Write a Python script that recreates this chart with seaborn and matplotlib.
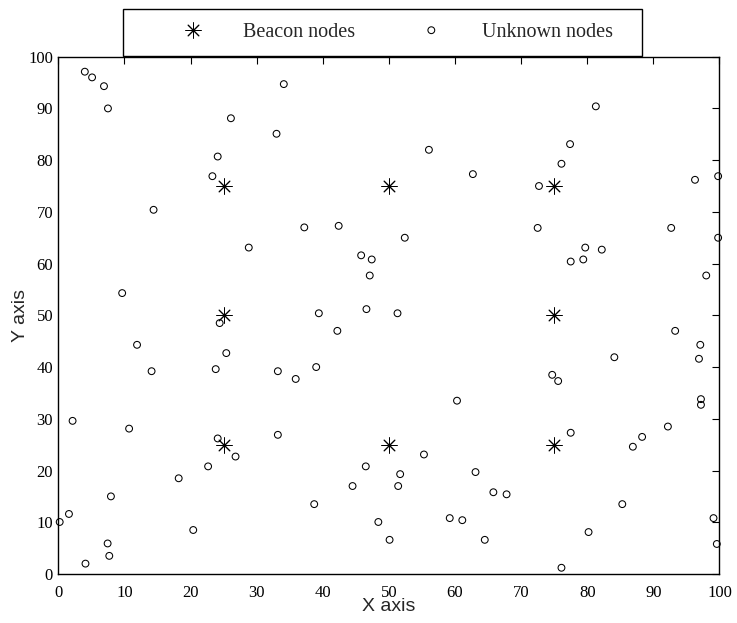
import matplotlib
matplotlib.use("Agg")
import matplotlib.pyplot as plt
from matplotlib.patches import Rectangle
import seaborn as sns
import pandas as pd

# ---- data ----
beacon_x = [25, 25, 25, 50, 50, 75, 75, 75]
beacon_y = [25, 50, 75, 25, 75, 25, 50, 75]

unknown_x = [4.0, 5.1, 6.9, 7.5, 34.1, 26.1, 33.0, 24.1, 23.3, 14.4,
             28.8, 9.65, 24.4, 11.9, 25.4, 56.05, 62.7, 37.2, 42.4, 52.4,
             45.8, 47.4, 47.1, 39.4, 46.6, 51.3, 42.2, 81.3, 77.4, 76.1,
             72.7, 96.3, 99.8, 72.5, 92.7, 99.8, 79.7, 82.2, 77.5, 79.4,
             98.0, 93.3, 97.1, 14.1, 23.8, 33.2, 2.15, 10.7, 33.2, 24.1,
             26.8, 22.65, 18.2, 7.95, 1.6, 0.2, 20.4, 7.45, 7.7, 4.1,
             35.9, 39.0, 60.3, 55.3, 46.5, 51.7, 63.1, 44.5, 51.4, 65.8,
             38.7, 59.2, 61.1, 48.4, 50.1, 64.5, 84.1, 96.9, 74.7, 75.6,
             97.2, 97.2, 77.5, 92.2, 88.3, 86.9, 67.8, 85.3, 99.1, 80.2,
             99.6, 76.1]
unknown_y = [97.1, 96.0, 94.3, 90.0, 94.7, 88.1, 85.1, 80.7, 76.9, 70.4,
             63.1, 54.3, 48.5, 44.3, 42.7, 82.0, 77.3, 67.0, 67.3, 65.0,
             61.6, 60.8, 57.7, 50.4, 51.2, 50.4, 47.0, 90.4, 83.1, 79.3,
             75.0, 76.2, 76.9, 66.9, 66.9, 65.0, 63.1, 62.7, 60.4, 60.8,
             57.7, 47.0, 44.3, 39.2, 39.6, 39.2, 29.6, 28.1, 26.9, 26.2,
             22.7, 20.8, 18.5, 15.0, 11.6, 10.05, 8.5, 5.9, 3.5, 2.0,
             37.7, 40.0, 33.5, 23.1, 20.8, 19.3, 19.7, 17.0, 17.0, 15.8,
             13.5, 10.8, 10.4, 10.05, 6.6, 6.6, 41.9, 41.6, 38.5, 37.3,
             33.8, 32.7, 27.3, 28.5, 26.5, 24.6, 15.4, 13.5, 10.8, 8.1,
             5.8, 1.2]

ticks = list(range(0, 101, 10))
legend_labels = ["Beacon nodes", "Unknown nodes"]
axis_labels = ["X axis", "Y axis"]

beacons = pd.DataFrame({"x": beacon_x, "y": beacon_y})
unknowns = pd.DataFrame({"x": unknown_x, "y": unknown_y})

# ---- figure ----
sns.set_style("white")
plt.rcParams["font.family"] = ["Liberation Serif", "DejaVu Serif"]

fig = plt.figure(figsize=(7.37, 6.23), dpi=100)
ax = fig.add_axes([0.0792, 0.0787, 0.8970, 0.8303])

sns.scatterplot(data=beacons, x="x", y="y", ax=ax, marker=(8, 2, 0),
                s=120, color="black", linewidth=0.7, clip_on=False,
                label=legend_labels[0], zorder=3)
sns.scatterplot(data=unknowns, x="x", y="y", ax=ax, marker="o",
                s=24, facecolor="none", edgecolor="black", color="black",
                linewidth=0.75, clip_on=False, label=legend_labels[1],
                zorder=3)

ax.set_xlim(0, 100)
ax.set_ylim(0, 100)
ax.set_xticks(ticks)
ax.set_yticks(ticks)
ax.tick_params(axis="both", direction="in", length=4.8, width=0.8,
               top=True, right=True, labelsize=12, colors="black")
ax.tick_params(axis="x", pad=8.0)
ax.tick_params(axis="y", pad=3.8)
for sp in ax.spines.values():
    sp.set_visible(True)
    sp.set_color("black")
    sp.set_linewidth(1.0)

ax.set_xlabel(axis_labels[0], fontsize=14, family=["Liberation Sans", "DejaVu Sans"])
ax.set_ylabel(axis_labels[1], fontsize=14, family=["Liberation Sans", "DejaVu Sans"])
ax.xaxis.set_label_coords(0.5, -0.046)
ax.yaxis.set_label_coords(-0.045, 0.5)

# legend above the axes
leg = ax.legend(loc="center left", bbox_to_anchor=(0.1828, 0.9475),
                bbox_transform=fig.transFigure, ncol=2, frameon=False,
                borderpad=0, handlelength=4.8, handletextpad=0.1,
                columnspacing=1.36, scatterpoints=1, scatteryoffsets=[0.5],
                prop={"family": ["Liberation Serif"], "size": 14.5})
fig.patches.append(Rectangle((0.1665, 0.9101), 0.7046, 0.075,
                             transform=fig.transFigure, fill=False,
                             edgecolor="black", linewidth=1.0, zorder=5))

fig.savefig("out.png", dpi=100)
